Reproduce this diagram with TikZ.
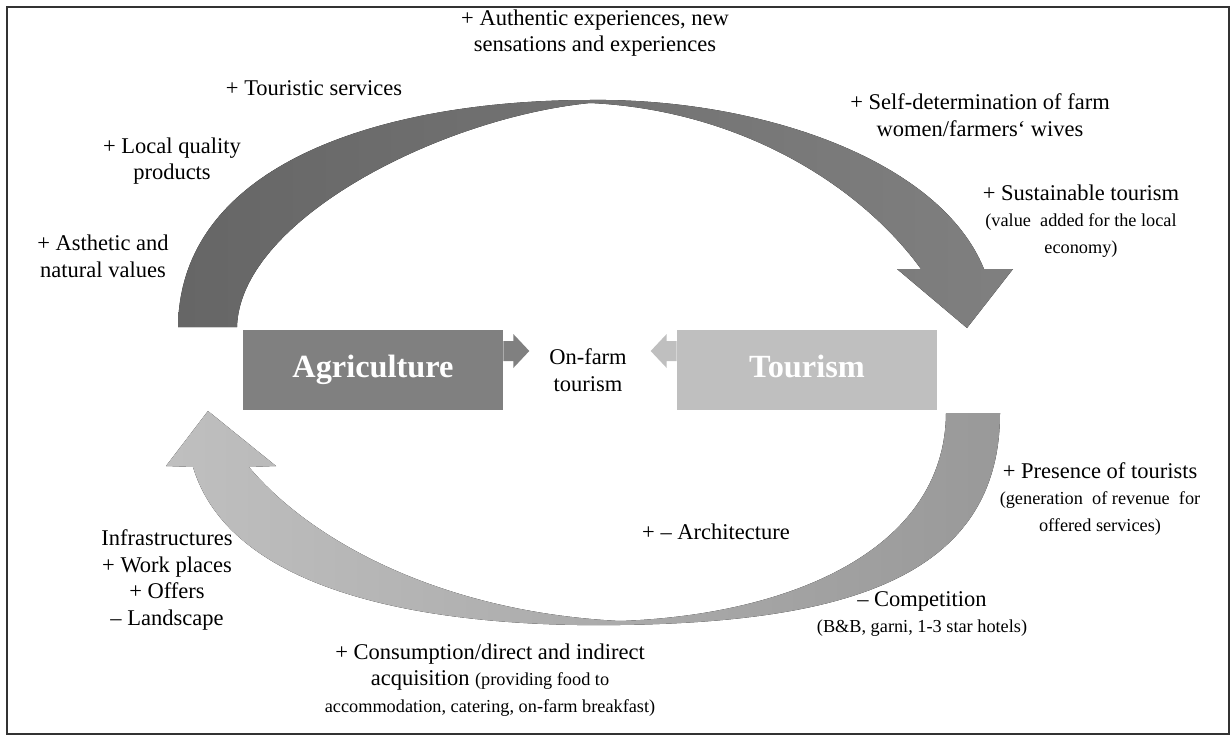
\documentclass[tikz,border=0pt]{standalone}
\usepackage{fontspec}
\setmainfont{Liberation Serif}
\usepackage{tikz}
\usetikzlibrary{positioning,calc}
\newcommand{\smtxt}{\fontsize{13}{16.5}\selectfont}
\tikzset{lbl/.style={align=center,inner sep=0pt,font=\fontsize{16}{19}\selectfont}}

\begin{document}
\begin{tikzpicture}[x=0.025cm,y=-0.025cm]
		\tikzstyle{Block}=[rectangle,minimum width=6.5cm,minimum height=1.98cm,inner sep=0pt,text height=1.2em,text depth=0.1em,text=white,font=\fontsize{23}{26}\selectfont\bfseries]
		\tikzstyle{Frame}=[draw=black!80,line width=1.2pt]

		\useasboundingbox (0,0) rectangle (1231,736);
		\draw [Frame] (7,7) rectangle (1229,734);

		% upper bow: agriculture -> tourism
		\fill [left color=black!60,right color=black!50] (178,327) .. controls (180,160) and (390,100) .. (590,100)
			.. controls (760,98) and (940,160) .. (984,269) -- (1013,269) -- (967,328) -- (897,269) -- (921,269)
			.. controls (860,185) and (740,110) .. (590,103) .. controls (440,118) and (240,220) .. (237,327) -- cycle;
		% lower bow: tourism -> agriculture
		\fill [left color=black!25,right color=black!40] (1000,413) .. controls (1000,580) and (840,622) .. (620,625)
			.. controls (420,628) and (230,590) .. (193,467) -- (166,466) -- (208,411) -- (276,466) -- (249,467)
			.. controls (310,540) and (440,612) .. (620,621) .. controls (790,615) and (945,550) .. (946,413) -- cycle;

		\node [Block,fill=black!50] (Agri) at (373,370) {Agriculture};
		\node [Block,fill=black!25] (Tour) at (807,370) {Tourism};
		\node [lbl] (onFarm) at (588,370) {On-farm\\tourism};

		\foreach \nd/\anc/\dir/\col in {Agri/east/1/black!50, Tour/west/-1/black!25}
		{
			\fill [\col] ($(\nd.\anc)+(0,-29)$) -- ++(10*\dir,0) -- ++(0,-7) -- ++(16*\dir,17)
				-- ++(-16*\dir,17) -- ++(0,-7) -- ++(-10*\dir,0) -- cycle;
		}

		\node [lbl] (authExp) at (595,33) {+ Authentic experiences, new\\sensations and experiences};
		\node [lbl] (touServ) at (314,88) {+ Touristic services};
		\node [lbl] (locProd) at (172,161) {+ Local quality\\products};
		\node [lbl] (asthVal) at (103,256) {+ Asthetic and\\natural values};
		\node [lbl] (selfDet) at (980,115) {+ Self-determination of farm\\women/farmers‘ wives};
		\node [lbl] (sustTour) at (1081,221) {+ Sustainable tourism\\{\smtxt (value\ \ added for the local}\\{\smtxt economy)}};
		\node [lbl] (presTour) at (1100,499) {+ Presence of tourists\\{\smtxt (generation\ \ of revenue\ \ for}\\{\smtxt offered services)}};
		\node [lbl] (archi) at (716,532) {+ -- Architecture};
		\node [lbl] (compet) at (922,614) {-- Competition\\{\smtxt (B\&B, garni, 1-3 star hotels)}};
		\node [lbl] (infra) at (167,580) {Infrastructures\\+ Work places\\+ Offers\\-- Landscape};
		\node [lbl] (consum) at (490,680) {+ Consumption/direct and indirect\\acquisition {\smtxt (providing food to}\\{\smtxt accommodation, catering, on-farm breakfast)}};

\end{tikzpicture}
\end{document}
